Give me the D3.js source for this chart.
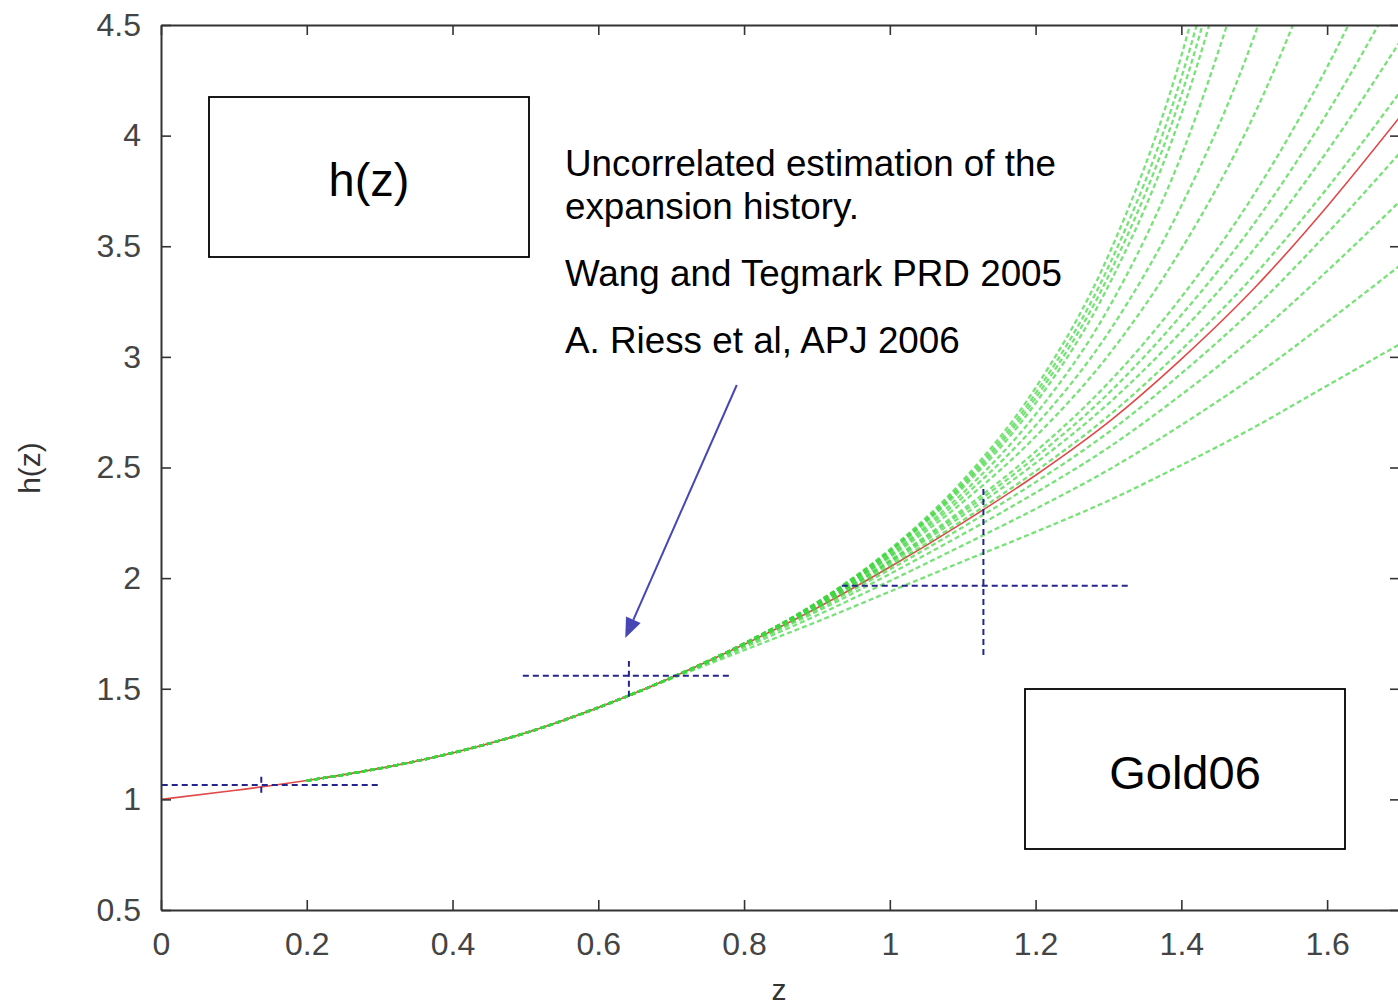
<!DOCTYPE html>
<html><head><meta charset="utf-8">
<script src="https://cdn.jsdelivr.net/npm/d3@7"></script>
<style>body{margin:0;background:#fff;} svg{display:block;}</style>
</head><body>
<svg id="c" width="1398" height="1007"></svg>
<script>
// ---------- data ----------
const redZ = [0,0.1,0.2,0.3,0.4,0.5,0.6,0.7,0.8,0.9,1.0,1.1,1.2,1.3,1.4,1.5,1.6,1.7];
const redH = [1.000,1.040,1.085,1.140,1.210,1.300,1.415,1.550,1.700,1.865,2.050,2.250,2.465,2.705,2.990,3.310,3.680,4.085];

const greenZ = [0.2,0.3,0.4,0.5,0.6,0.7,0.8,0.9,1.0,1.1,1.2,1.3,1.4,1.5,1.6,1.7];
const green01 = [1.085,1.140,1.210,1.300,1.415,1.550,1.705,1.891,2.130,2.441,2.860,3.459,4.361,5.737];
const green02 = [1.085,1.140,1.210,1.300,1.415,1.550,1.705,1.890,2.125,2.429,2.835,3.407,4.262,5.544];
const green03 = [1.085,1.140,1.210,1.300,1.415,1.550,1.704,1.888,2.121,2.419,2.814,3.366,4.183,5.396];
const green04 = [1.085,1.140,1.210,1.300,1.415,1.550,1.704,1.887,2.117,2.408,2.791,3.321,4.098,5.237];
const green05 = [1.085,1.140,1.210,1.300,1.415,1.550,1.704,1.884,2.107,2.384,2.740,3.219,3.910,4.889];
const green06 = [1.085,1.140,1.210,1.300,1.415,1.550,1.704,1.883,2.101,2.365,2.690,3.110,3.683,4.450,5.510];
const green07 = [1.085,1.140,1.210,1.300,1.415,1.550,1.704,1.882,2.094,2.343,2.640,3.008,3.487,4.095,4.889];
const green08 = [1.085,1.140,1.210,1.300,1.415,1.550,1.703,1.877,2.080,2.310,2.572,2.883,3.270,3.736,4.310,4.995];
const green09 = [1.085,1.140,1.210,1.300,1.415,1.550,1.703,1.876,2.075,2.298,2.547,2.835,3.189,3.603,4.101,4.676];
const green10 = [1.085,1.140,1.210,1.300,1.415,1.550,1.703,1.873,2.068,2.283,2.520,2.789,3.114,3.488,3.929,4.425];
const green11 = [1.085,1.140,1.210,1.300,1.415,1.550,1.701,1.868,2.056,2.261,2.483,2.733,3.032,3.369,3.762,4.197];
const green12 = [1.085,1.140,1.210,1.300,1.415,1.550,1.698,1.859,2.039,2.230,2.434,2.659,2.925,3.220,3.558,3.923];
const green13 = [1.085,1.140,1.210,1.300,1.415,1.549,1.694,1.849,2.019,2.198,2.386,2.590,2.829,3.091,3.388,3.704];
const green14 = [1.085,1.140,1.210,1.300,1.415,1.548,1.686,1.832,1.987,2.148,2.313,2.489,2.692,2.912,3.158,3.413];
const green15 = [1.085,1.140,1.210,1.300,1.415,1.545,1.674,1.803,1.939,2.075,2.209,2.350,2.511,2.682,2.870,3.058];
const greenSeries = [green01,green02,green03,green04,green05,green06,green07,green08,green09,green10,green11,green12,green13,green14,green15];

// error-bar crosses (uncorrelated estimates)
const errZ   = [0.1376, 0.642, 1.1284];
const errZlo = [0.001, 0.4965, 0.934];
const errZhi = [0.298, 0.781, 1.330];
const errH   = [1.065, 1.559, 1.966];
const errHlo = [1.030, 1.464, 1.652];
const errHhi = [1.102, 1.625, 2.413];

const xTicks = [0,0.2,0.4,0.6,0.8,1.0,1.2,1.4,1.6];
const xTickLabels = ["0","0.2","0.4","0.6","0.8","1","1.2","1.4","1.6"];
const yTicks = [0.5,1,1.5,2,2.5,3,3.5,4,4.5];
const yTickLabels = ["0.5","1","1.5","2","2.5","3","3.5","4","4.5"];

const noteLines = ["Uncorrelated estimation of the","expansion history.","Wang and Tegmark PRD 2005","A. Riess et al, APJ 2006"];
const arrowFrom = [0.790, 2.873];
const arrowTo   = [0.637, 1.729];

// ---------- drawing ----------
const svg = d3.select("#c");
const FONT = "'Liberation Sans', Arial, sans-serif";
const L = 161, R = 1400, T = 25, B = 910;
const x = d3.scaleLinear().domain([0,1.7]).range([L,R]);
const y = d3.scaleLinear().domain([0.5,4.5]).range([B,T]);

svg.append("defs").append("clipPath").attr("id","plot")
  .append("rect").attr("x",L).attr("y",T).attr("width",R-L).attr("height",B-T);

const plot = svg.append("g").attr("clip-path","url(#plot)");
const cLine = d3.line().x(d=>x(d[0])).y(d=>y(d[1])).curve(d3.curveMonotoneX);

// red curve (under the green bundle)
plot.append("path").attr("d",cLine(redH.map((v,i)=>[redZ[i],v])))
  .attr("fill","none").attr("stroke","#e04848").attr("stroke-width",1.6);

// green curves
greenSeries.forEach(s=>{
  const pts = s.map((v,i)=>[greenZ[i],v]);
  plot.append("path").attr("d",cLine(pts))
    .attr("fill","none").attr("stroke","#3ed63e").attr("stroke-width",2.3)
    .attr("stroke-dasharray","5,3").attr("opacity",0.7);
});

// error bars
const eb = plot.append("g").attr("stroke","#25258c").attr("stroke-width",2).attr("stroke-dasharray","6,4");
errZ.forEach((z,i)=>{
  eb.append("line").attr("x1",x(errZlo[i])).attr("x2",x(errZhi[i])).attr("y1",y(errH[i])).attr("y2",y(errH[i]));
  eb.append("line").attr("x1",x(z)).attr("x2",x(z)).attr("y1",y(errHlo[i])).attr("y2",y(errHhi[i]));
});

// axes (ticks inward on all sides)
const axCol = "#333";
const gb = svg.append("g").attr("transform",`translate(0,${B})`)
  .call(d3.axisBottom(x).tickValues(xTicks).tickFormat((d,i)=>xTickLabels[i]).tickSizeInner(-10).tickSizeOuter(0).tickPadding(22));
const gl = svg.append("g").attr("transform",`translate(${L},0)`)
  .call(d3.axisLeft(y).tickValues(yTicks).tickFormat((d,i)=>yTickLabels[i]).tickSizeInner(-10).tickSizeOuter(0).tickPadding(20));
const gt = svg.append("g").attr("transform",`translate(0,${T})`)
  .call(d3.axisTop(x).tickValues(xTicks).tickFormat("").tickSizeInner(-10).tickSizeOuter(0));
const gr = svg.append("g").attr("transform",`translate(${R},0)`)
  .call(d3.axisRight(y).tickValues(yTicks).tickFormat("").tickSizeInner(-10).tickSizeOuter(0));
[gb,gl,gt,gr].forEach(g=>{
  g.selectAll(".domain").attr("stroke",axCol).attr("stroke-width",2);
  g.selectAll(".tick line").attr("stroke",axCol).attr("stroke-width",1.6);
  g.selectAll(".tick text").attr("fill","#444").style("font-family",FONT).style("font-size","32px");
});
gb.selectAll(".tick text").attr("dy","0.72em");

// axis titles
svg.append("text").attr("x",779).attr("y",1000).attr("text-anchor","middle")
  .style("font-family",FONT).style("font-size","30px").attr("fill","#333").text("z");
svg.append("text").attr("transform","translate(40,468) rotate(-90)").attr("text-anchor","middle")
  .style("font-family",FONT).style("font-size","30px").attr("fill","#333").text("h(z)");

// boxes
function box(x0,y0,w,h,label,by){
  svg.append("rect").attr("x",x0).attr("y",y0).attr("width",w).attr("height",h)
    .attr("fill","#fff").attr("stroke","#000").attr("stroke-width",1.8);
  svg.append("text").attr("x",x0+w/2).attr("y",by).attr("text-anchor","middle")
    .style("font-family",FONT).style("font-size","47px").attr("fill","#000").text(label);
}
box(209,97,320,160,"h(z)",196);
box(1025,689,320,160,"Gold06",789);

// note text
const noteY = [176,219,286,353];
noteLines.forEach((t,i)=>{
  svg.append("text").attr("x",565).attr("y",noteY[i])
    .style("font-family",FONT).style("font-size","36.8px").attr("fill","#000").text(t);
});

// arrow
const ax0 = x(arrowFrom[0]), ay0 = y(arrowFrom[1]), ax1 = x(arrowTo[0]), ay1 = y(arrowTo[1]);
const ang = Math.atan2(ay1-ay0, ax1-ax0), hl = 20, hw = 8;
const bx = ax1 - hl*Math.cos(ang), by2 = ay1 - hl*Math.sin(ang);
svg.append("line").attr("x1",ax0).attr("y1",ay0).attr("x2",bx).attr("y2",by2)
  .attr("stroke","#4646b4").attr("stroke-width",2);
svg.append("path").attr("d",`M${ax1},${ay1}L${bx+hw*Math.sin(ang)},${by2-hw*Math.cos(ang)}L${bx-hw*Math.sin(ang)},${by2+hw*Math.cos(ang)}Z`)
  .attr("fill","#4646b4");
</script>
</body></html>
